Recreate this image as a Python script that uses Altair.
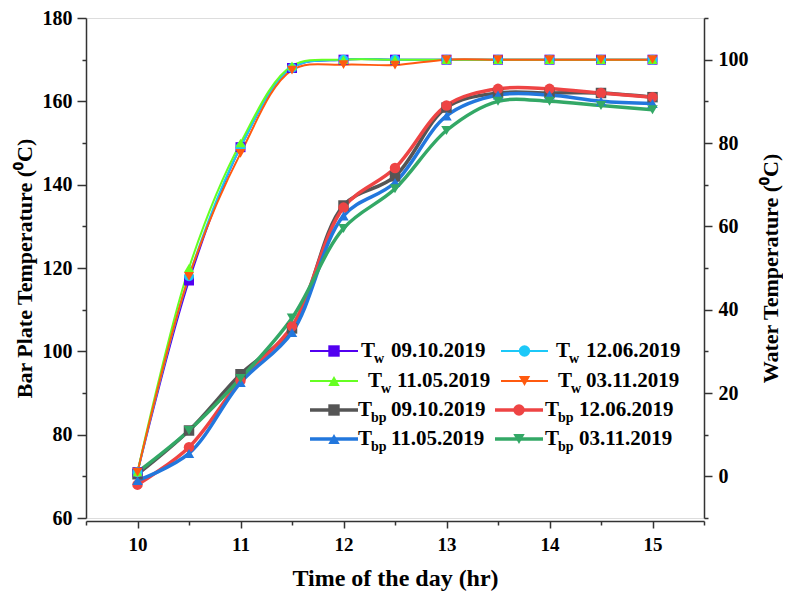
import altair as alt
import pandas as pd

# ---------------- data ----------------
hours = [10, 10.5, 11, 11.5, 12, 12.5, 13, 13.5, 14, 14.5, 15]
dates = ["09.10.2019", "12.06.2019", "11.05.2019", "03.11.2019"]

# water temperature (right axis)
tw_0910 = [1, 47, 79, 98, 100, 100, 100, 100, 100, 100, 100]
tw_1206 = [1, 48, 79, 98, 100, 100, 100, 100, 100, 100, 100]
tw_1105 = [1, 50, 80, 98.5, 100, 100, 100, 100, 100, 100, 100]
tw_0311 = [1, 48, 77.5, 97.5, 98.8, 98.7, 100, 100, 100, 100, 100]

# bar plate temperature (left axis)
tbp_0910 = [70.5, 81, 94.5, 105.5, 135, 142, 158.5, 162, 162, 162, 161]
tbp_1206 = [68, 77, 93, 106, 134.5, 144, 159, 163, 163, 162, 161]
tbp_1105 = [69, 75.5, 92.5, 104.5, 132.5, 140.5, 156.5, 161.5, 161.5, 160, 159.5]
tbp_0311 = [71, 81, 93.5, 108, 129.5, 139, 153, 160, 160, 159, 158]

tw_colors = ["#5200F0", "#1CC8F8", "#66FF22", "#FF5A0F"]
tbp_colors = ["#555555", "#EE4444", "#2277DD", "#33A866"]
shapes = ["square", "circle", "triangle-up", "triangle-down"]

tw_series = [tw_0910, tw_1206, tw_1105, tw_0311]
tbp_series = [tbp_0910, tbp_1206, tbp_1105, tbp_0311]

tw_names = ["Tw " + d for d in dates]
tbp_names = ["Tbp " + d for d in dates]
all_names = tw_names + tbp_names
all_colors = tw_colors + tbp_colors
all_shapes = shapes + shapes

rows = []
for name, vals in zip(tw_names, tw_series):
    for h, v in zip(hours, vals):
        rows.append({"series": name, "kind": "w", "t": h, "value": v})
for name, vals in zip(tbp_names, tbp_series):
    for h, v in zip(hours, vals):
        rows.append({"series": name, "kind": "bp", "t": h, "value": v})
df = pd.DataFrame(rows)
df_tw = df[df.kind == "w"]
df_tbp = df[df.kind == "bp"]

# ---------------- layout helpers ----------------
W, H = 618, 500
XDOM = [9.5, 15.5]
YL = [60, 180]
YR = [-10, 110]
PL, PT = 88, 18  # plot origin in reference pixels


def px_t(px):
    return XDOM[0] + (px - PL) / W * (XDOM[1] - XDOM[0])


def py_v(py):
    return YL[1] - (py - PT) / H * (YL[1] - YL[0])


FONT = "Liberation Serif"
common = dict(labelFont=FONT, titleFont=FONT, labelFontWeight="bold", titleFontWeight="bold",
              labelColor="black", titleColor="black", domainColor="#333333", tickColor="#333333",
              domainWidth=1.5, tickWidth=1.5, grid=False)

xaxis = alt.Axis(
    values=[9.5 + 0.5 * i for i in range(13)],
    labelExpr="datum.value % 1 === 0 ? format(datum.value, 'd') : ''",
    tickSize={"condition": {"test": "datum.value % 1 === 0", "value": 7}, "value": 4},
    title="Time of the day (hr)",
    offset=3, labelFontSize=19, titleFontSize=24,
    labelPadding=7, titlePadding=12, **common,
)
yaxis_l = alt.Axis(
    values=list(range(60, 181, 10)),
    labelExpr="datum.value % 20 === 0 ? format(datum.value, 'd') : ''",
    tickSize={"condition": {"test": "datum.value % 20 === 0", "value": 9}, "value": 4},
    title="Bar Plate Temperature (⁰C)",
    labelFontSize=20, titleFontSize=22, labelPadding=5, titlePadding=6, **common,
)
yaxis_r = alt.Axis(
    orient="right",
    values=list(range(-10, 111, 10)),
    labelExpr="datum.value % 20 === 0 ? format(datum.value, 'd') : ''",
    tickSize={"condition": {"test": "datum.value % 20 === 0", "value": 8}, "value": 4},
    title="Water Temperature (⁰C)", titleAngle=270,
    labelFontSize=20, titleFontSize=22, labelPadding=6, titlePadding=34, **common,
)

xscale = alt.Scale(domain=XDOM, nice=False, zero=False)
ylscale = alt.Scale(domain=YL, nice=False, zero=False)
yrscale = alt.Scale(domain=YR, nice=False, zero=False)


def X(field):
    return alt.X(f"{field}:Q", scale=xscale, axis=xaxis, title="Time of the day (hr)")


def YLe(field):
    return alt.Y(f"{field}:Q", scale=ylscale, axis=yaxis_l, title="Bar Plate Temperature (⁰C)")


color = alt.Color("series:N", scale=alt.Scale(domain=all_names, range=all_colors), legend=None)
shape = alt.Shape("series:N", scale=alt.Scale(domain=all_names, range=all_shapes), legend=None)

# ---------------- data layers ----------------
tbp_line = alt.Chart(df_tbp).mark_line(interpolate="catmull-rom", strokeWidth=3.5).encode(
    x=X("t"), y=YLe("value"), color=color)
tbp_pts = alt.Chart(df_tbp).mark_point(filled=True, size=110, opacity=1).encode(
    x=X("t"), y=YLe("value"), color=color, shape=shape)

tw_y = alt.Y("value:Q", scale=yrscale, axis=yaxis_r, title="Water Temperature (⁰C)")
tw_line = alt.Chart(df_tw).mark_line(interpolate="catmull-rom", strokeWidth=2).encode(
    x=X("t"), y=tw_y, color=color)
tw_pts = alt.Chart(df_tw).mark_point(filled=True, size=100, opacity=1).encode(
    x=X("t"), y=tw_y, color=color, shape=shape)

# ---------------- custom legend (built from the series lists) ----------------
row_py = [351, 381, 410, 439]
leg_rows = []
for i, name in enumerate(all_names):
    r, c = i // 2, i % 2
    is_w = name.startswith("Tw")
    if c == 0:
        lx1, lx2 = 312, 360
        tx = 363 if r == 0 else (370 if r == 1 else 360)
        dx = 393 if r == 0 else (399 if r == 1 else 393)
    else:
        lx1, lx2 = (503, 550) if is_w else (497, 545)
        tx = 558 if r == 0 else (560 if r == 1 else 547)
        dx = 588 if is_w else 581
    leg_rows.append({
        "series": name, "kind": "w" if is_w else "bp",
        "x1": px_t(lx1), "x2": px_t(lx2), "xm": px_t((lx1 + lx2) / 2),
        "xT": px_t(tx), "xS": px_t(tx + 13), "xD": px_t(dx),
        "yv": py_v(row_py[r]), "sub": "w" if is_w else "bp",
        "date": name.split(" ")[1],
    })
leg = pd.DataFrame(leg_rows)

leg_rule = alt.Chart(leg).mark_rule().encode(
    x=X("x1"), x2="x2:Q", y=YLe("yv"), color=color,
    strokeWidth=alt.StrokeWidth("kind:N", scale=alt.Scale(domain=["w", "bp"], range=[2, 3.5]), legend=None))
leg_pts = alt.Chart(leg).mark_point(filled=True, size=130, opacity=1).encode(
    x=X("xm"), y=YLe("yv"), color=color, shape=shape)
txt = dict(font=FONT, fontWeight="bold", color="black", align="left", baseline="middle")
leg_T = alt.Chart(leg).mark_text(fontSize=21, **txt).encode(
    x=X("xT"), y=YLe("yv"), text=alt.value("T"))
leg_S = alt.Chart(leg).mark_text(fontSize=14, dy=8, **txt).encode(
    x=X("xS"), y=YLe("yv"), text="sub:N")
leg_D = alt.Chart(leg).mark_text(fontSize=21, **txt).encode(
    x=X("xD"), y=YLe("yv"), text="date:N")

left = alt.layer(tbp_line, tbp_pts, leg_rule, leg_pts, leg_T, leg_S, leg_D)
right = alt.layer(tw_line, tw_pts)

chart = alt.layer(left, right).resolve_scale(
    y="independent", color="shared", shape="shared"
).properties(
    width=W, height=H,
    padding={"left": 5, "top": 0, "right": 2, "bottom": 5},
).configure_view(strokeWidth=0).configure(background="white")

chart.save("out.html", embed_options={"renderer": "svg", "actions": False})
